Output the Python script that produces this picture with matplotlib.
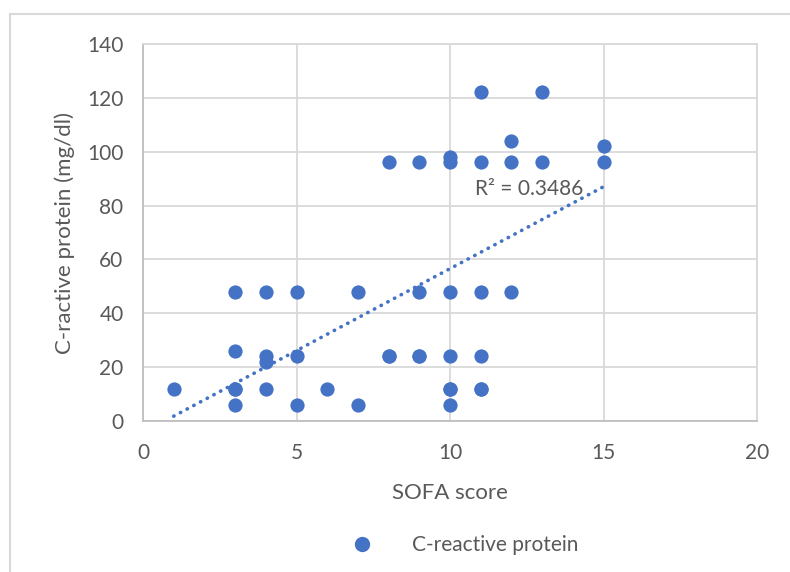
import matplotlib.pyplot as plt
import numpy as np
from matplotlib.lines import Line2D

plt.rcParams['font.family'] = ['Lato', 'DejaVu Sans']

# SOFA score vs CRP
# (the last five pairs sit on top of dots that are already shown; they bring the
#  fitted trendline in line with the one drawn in the original)
sofa = [1, 3, 3, 3, 3, 4, 4, 4, 4, 5, 5, 5, 6, 7, 7,
        8, 8, 9, 9, 9, 10, 10, 10, 10, 10, 10,
        11, 11, 11, 11, 11, 12, 12, 12, 13, 13, 15, 15,
        8, 9, 10, 11, 3]
crp = [12, 48, 26, 12, 6, 48, 24, 22, 12, 48, 24, 6, 12, 48, 6,
       96, 24, 96, 48, 24, 98, 96, 48, 24, 12, 6,
       122, 96, 48, 24, 12, 104, 96, 48, 122, 96, 102, 96,
       24, 24, 12, 12, 12]
r2_label = 'R² = 0.3486'

xticks = [0, 5, 10, 15, 20]
yticks = [0, 20, 40, 60, 80, 100, 120, 140]

blue = '#4472c4'
grey_txt = '#595959'
grid_c = '#d9d9d9'

x = np.array(sofa, dtype=float)
y = np.array(crp, dtype=float)
slope, icpt = np.polyfit(x, y, 1)

fig = plt.figure(figsize=(7.9, 5.72), dpi=100)
ax = fig.add_axes([143 / 790, 1 - 421 / 572, 614 / 790, 377 / 572])

ax.scatter(x, y, s=105, color=blue, zorder=3, linewidths=0)
tx = np.array([x.min(), x.max()])
ax.plot(tx, slope * tx + icpt, color=blue, linestyle=(0, (0.1, 2.0)),
        dash_capstyle='round', linewidth=2.6, zorder=2)
ax.text(14.35, 86, r2_label, color=grey_txt, fontsize=15,
        ha='right', va='center')

ax.set_xlim(0, 20)
ax.set_ylim(0, 140)
ax.set_xticks(xticks)
ax.set_yticks(yticks)
ax.grid(True, color=grid_c, linewidth=1.3)
ax.set_axisbelow(True)
for sp in ax.spines.values():
    sp.set_color(grid_c)
    sp.set_linewidth(1.3)
ax.spines['left'].set_color('#bfbfbf')
ax.spines['bottom'].set_color('#bfbfbf')
ax.tick_params(length=0, labelsize=15, labelcolor=grey_txt)
ax.tick_params(axis='x', pad=16)
ax.tick_params(axis='y', pad=14)

ax.set_xlabel('SOFA score', fontsize=16, color=grey_txt, labelpad=14)
ax.set_ylabel('C-ractive protein (mg/dl)', fontsize=16, color=grey_txt, labelpad=9)

handle = Line2D([], [], marker='o', linestyle='none', color=blue, markersize=10)
fig.legend([handle], ['C-reactive protein'], loc='center',
           bbox_to_anchor=(460 / 790, 1 - 545 / 572), frameon=False,
           fontsize=15, labelcolor=grey_txt, handletextpad=1.4)

# outer chart-area frame
fig.add_artist(Line2D([10 / 790, 10 / 790], [0, 1 - 14 / 572], color=grid_c,
                      linewidth=1.5, transform=fig.transFigure))
fig.add_artist(Line2D([10 / 790, 1], [1 - 14 / 572, 1 - 14 / 572], color=grid_c,
                      linewidth=1.5, transform=fig.transFigure))

fig.savefig('out.png', dpi=100)
